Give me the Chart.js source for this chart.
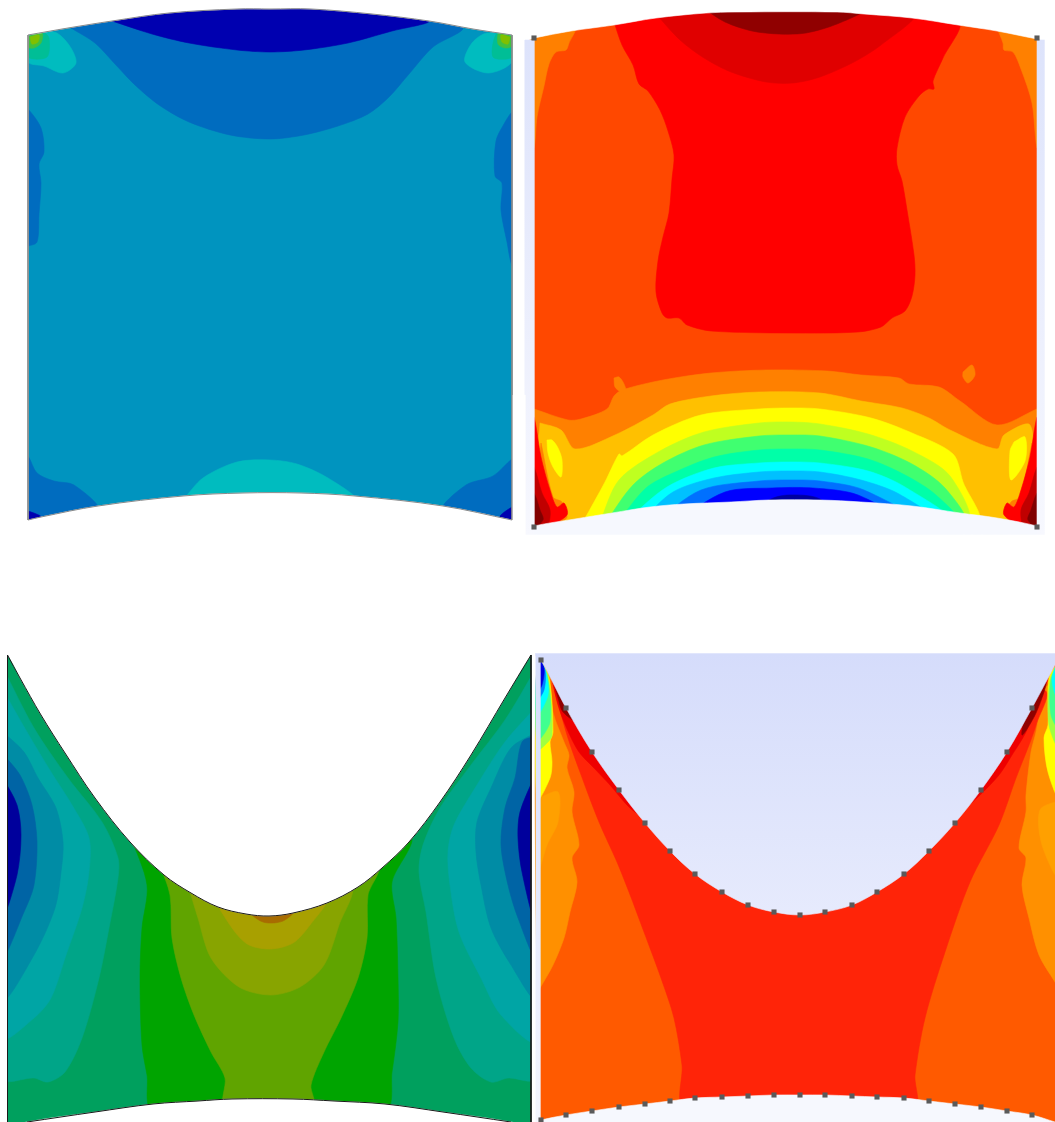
<!DOCTYPE html>
<html>
<head>
<meta charset="utf-8">
<title>Contour plots</title>
<script src="https://cdn.jsdelivr.net/npm/chart.js@4"></script>
<style>
html, body { margin: 0; padding: 0; background: #fff; }
canvas { display: block; filter: blur(0.4px); }
</style>
</head>
<body>
<canvas id="contours" width="1055" height="1122"></canvas>
<script>
// Every contour is a list of [x, y] values

// Top left panel
const p1TopArc = [[28,35],[68,28],[112,21],[169,13],[237,9],[270,9],[311,9],[372,14],[429,21],[473,29],[512,35]];
const p1BottomArc = [[512,520],[443,506],[355,496],[301,493],[243,493],[183,496],[98,506],[41,517],[28,520]];
const p1TopBlue = [[71,28],[95,43],[115,64],[135,85],[159,105],[189,122],[230,135],[270,139],[304,135],[338,126],[368,114],[389,97],[409,74],[433,47],[463,28],[429,15],[270,3],[112,15]];
const p1TopNavy = [[112,21],[152,34],[189,43],[237,50],[270,52],[304,50],[348,43],[392,31],[429,21],[372,8],[270,3],[169,8]];
const p1CornerCyanL = [[28,38],[54,32],[69,45],[76,63],[63,73],[44,66],[28,62]];
const p1CornerCyanR = [[512,37],[487,33],[472,43],[465,62],[488,73],[512,62]];
const p1CornerTealL = [[28,36],[44,33],[49,38],[47,57],[28,57]];
const p1CornerTealR = [[512,36],[497,33],[493,57],[512,57]];
const p1CornerGreenL = [[28,36],[42,33],[41,43],[34,48],[28,47]];
const p1CornerGreenR = [[512,36],[499,33],[498,44],[505,48],[512,46]];
const p1CornerLimeL = [[30,37],[39,35],[38,42],[32,44]];
const p1CornerLimeR = [[510,37],[501,35],[502,42],[508,44]];
const p1StripL = [[24,109],[28,109],[41,128],[44,152],[39,164],[41,183],[39,214],[37,242],[28,246],[24,246]];
const p1StripR = [[516,112],[512,112],[504,124],[496,141],[495,176],[502,183],[501,210],[507,242],[512,266],[516,266]];
const p1BottomCyan = [[183,500],[203,478],[237,462],[270,460],[297,464],[328,478],[355,500]];
const p1BottomBlueL = [[24,456],[28,456],[37,473],[54,481],[74,485],[98,510],[24,526]];
const p1BottomBlueR = [[516,459],[512,459],[493,476],[466,485],[443,510],[516,526]];
const p1BottomNavyL = [[24,511],[28,511],[41,517],[24,524]];
const p1BottomNavyR = [[516,507],[512,507],[500,517],[516,524]];
const p1Field = [[20,0],[520,0],[520,530],[20,530]];
const p1Left = [[0,0],[28,0],[28,640],[0,640]];
const p1Right = [[512.5,0],[524.5,0],[524.5,640],[512.5,640]];
const p1EdgeL = [[28,35],[28,520]];
const p1EdgeR = [[512,35],[512,520]];

// Top right panel
const p2Backdrop = [[525,40],[1045,40],[1045,535],[525,535]];
const p2TopArc = [[534,38],[571,31],[614,25],[656,18],[706,13],[735,12],[837,12],[864,14],[912,18],[958,25],[997,31],[1037,39]];
const p2BottomArc = [[1037,526],[997,518],[960,513],[912,506],[861,502],[820,500],[769,500],[731,502],[684,504],[650,507],[612,513],[575,519],[534,526]];
const p2Field = [[530,5],[1041,5],[1041,530],[530,530]];
const p2EdgeL = [[530,38],[575,28],[569,43],[566,50],[556,52],[549,64],[544,86],[537,117],[534,148],[530,148]];
const p2EdgeR = [[997,28],[1041,39],[1041,148],[1037,148],[1032,103],[1021,69],[1013,52],[1004,50],[1003,43]];
const p2Core = [[614,22],[622,45],[633,65],[639,84],[648,91],[660,110],[668,131],[674,155],[672,179],[669,213],[663,237],[658,261],[656,292],[662,313],[667,318],[679,318],[687,325],[711,331],[789,333],[858,332],[881,327],[892,318],[905,311],[912,296],[915,275],[914,255],[907,210],[902,181],[897,165],[897,148],[905,117],[919,96],[928,89],[934,89],[933,81],[943,58],[958,22],[790,5]];
const p2TopDark = [[656,14],[680,40],[704,58],[731,72],[766,82],[793,83],[820,77],[854,62],[881,45],[914,14],[790,3]];
const p2TopDarkest = [[703,8],[725,22],[752,31],[779,34],[806,33],[837,24],[867,8],[790,3]];
const p2Orange = [[530,408],[534,409],[568,420],[581,419],[607,409],[614,396],[622,390],[663,380],[711,373],[766,370],[827,371],[861,375],[899,378],[909,384],[939,387],[960,401],[997,425],[1037,409],[1041,408],[1041,532],[530,532]];
const p2BlobL = [[614,378],[619,377],[624,384],[626,392],[621,392],[615,387]];
const p2BlobR = [[963,372],[972,365],[975,375],[968,383],[963,377]];
const p2Amber = [[540,423],[561,430],[575,449],[615,435],[653,415],[670,404],[711,396],[759,392],[820,393],[861,401],[902,408],[929,418],[950,430],[997,449],[1004,435],[1030,425],[1033,481],[1033,532],[538,532]];
const p2WedgeOrangeL = [[541,443],[553,497],[562,502],[567,517],[558,523],[534,530]];
const p2WedgeOrangeR = [[1032,443],[1020,497],[1011,502],[1006,517],[1015,523],[1037,530]];
const p2WedgeRedL = [[530,417],[534,417],[541,457],[550,490],[557,507],[564,503],[567,515],[545,528],[530,530]];
const p2WedgeRedR = [[1041,417],[1037,417],[1030,457],[1021,490],[1014,507],[1007,503],[1004,515],[1026,528],[1041,530]];
const p2WedgeDarkL = [[530,467],[534,467],[542,493],[550,510],[547,526],[530,530]];
const p2WedgeDarkR = [[1041,467],[1037,467],[1029,493],[1021,510],[1024,526],[1041,530]];
const p2WedgeDeepL = [[530,493],[534,493],[540,510],[543,520],[530,530]];
const p2WedgeDeepR = [[1041,493],[1037,493],[1031,510],[1028,520],[1041,530]];
const p2YellowL = [[547,440],[552,440],[558,448],[562,460],[561,477],[553,467],[548,453]];
const p2YellowR = [[1014,442],[1025,437],[1025,461],[1011,480],[1010,451]];
const p2BandYellow = [[583,522],[605,482],[619,454],[622,456],[653,435],[701,415],[759,409],[790,408],[820,409],[871,418],[912,433],[953,454],[963,482],[977,522]];
const p2BandLime = [[600,522],[619,480],[660,451],[704,432],[759,423],[790,422],[820,424],[868,434],[912,451],[950,476],[966,522]];
const p2BandGreen = [[606,522],[633,485],[663,463],[704,445],[759,436],[790,435],[820,436],[871,447],[912,464],[945,488],[963,522]];
const p2BandSpring = [[618,522],[646,488],[673,473],[714,457],[759,450],[790,449],[820,450],[868,459],[905,475],[936,495],[957,522]];
const p2BandCyan = [[625,522],[667,487],[714,468],[759,463],[790,462],[820,463],[868,471],[905,487],[950,522]];
const p2BandSky = [[640,522],[673,492],[714,478],[759,472],[790,471],[820,472],[861,480],[899,494],[935,522]];
const p2BandAzure = [[655,522],[701,490],[759,481],[790,480],[820,481],[864,490],[915,522]];
const p2BandBlue = [[675,522],[725,492],[772,488],[813,488],[858,495],[900,522]];
const p2BandNavy = [[745,522],[769,500],[789,495],[820,499],[840,522]];
const p2Left = [[525,40],[534,40],[534,535],[525,535]];
const p2Right = [[1037,40],[1045,40],[1045,535],[1037,535]];
const p2OuterLeft = [[513,395],[525,395],[525,640],[513,640]];
const p2OuterRight = [[1045,0],[1055,0],[1055,640],[1045,640]];
const p2OuterBelow = [[513,535],[1055,535],[1055,640],[513,640]];
const p2Nodes = [[534,38],[1037,38],[534,527],[1037,527]];

// Bottom left panel
const p3TopCurve = [[7.5,655],[20,678],[41,715],[65,753],[95,798],[130,842],[164,875],[191,893],[218,907],[246,914],[269,916],[293,913],[327,903],[358,887],[382,868],[409,842],[440,802],[471,755],[505,698],[531,655]];
const p3BottomCurve = [[511,1122],[443,1112],[385,1104],[334,1101],[293,1099],[232,1099],[198,1101],[153,1104],[95,1112],[27,1122]];
const p3Field = [[3,645],[535,645],[535,1130],[3,1130]];
const p3TealL = [[3,668],[34,728],[68,778],[102,822],[118,858],[118,878],[109,928],[99,978],[82,1038],[65,1072],[48,1082],[34,1078],[3,1078]];
const p3TealR = [[535,670],[505,720],[471,765],[440,808],[423,845],[419,872],[426,912],[436,978],[454,1038],[471,1068],[491,1082],[508,1078],[535,1078]];
const p3AquaL = [[3,690],[27,732],[51,772],[72,805],[89,838],[89,872],[82,908],[66,955],[51,998],[34,1018],[3,1037]];
const p3AquaR = [[535,708],[505,742],[477,785],[454,825],[448,852],[450,885],[459,932],[481,978],[501,1015],[535,1040]];
const p3SteelL = [[3,732],[24,752],[38,778],[56,808],[63,842],[61,872],[55,908],[34,955],[3,998]];
const p3SteelR = [[535,733],[511,748],[491,788],[477,822],[476,852],[481,885],[491,928],[511,965],[535,997]];
const p3BlueL = [[3,754],[20,775],[32,805],[37,842],[34,885],[24,912],[3,955]];
const p3BlueR = [[535,736],[522,742],[515,778],[505,808],[501,845],[508,885],[518,918],[535,955]];
const p3NavyL = [[3,778],[17,805],[21,835],[17,875],[3,915]];
const p3NavyR = [[535,775],[520,812],[518,838],[522,872],[535,920]];
const p3Green = [[130,835],[147,885],[142,928],[140,978],[142,1045],[147,1075],[153,1110],[385,1110],[392,1072],[398,1022],[398,978],[396,918],[392,882],[410,835],[270,800]];
const p3Olive1 = [[160,865],[170,895],[172,938],[181,978],[194,1015],[211,1052],[225,1078],[225,1105],[313,1105],[311,1085],[324,1052],[341,1018],[358,978],[367,938],[368,895],[378,865],[270,850]];
const p3Olive2 = [[188,885],[198,918],[211,958],[239,987],[271,995],[300,987],[324,965],[339,925],[351,885],[270,870]];
const p3Olive3 = [[214,900],[235,932],[249,945],[271,949],[293,943],[310,925],[327,897],[270,890]];
const p3Brown = [[243,908],[263,922],[283,921],[296,908],[270,900]];
const p3Left = [[0,640],[7.5,640],[7.5,1122],[0,1122]];
const p3Right = [[531.5,640],[536,640],[536,1122],[531.5,1122]];
const p3EdgeL = [[7.5,655],[7.5,1122]];
const p3EdgeR = [[531,655],[531,1122]];

// Bottom right panel
const p4Backdrop = [[536,653],[1055,653],[1055,1122],[536,1122]];
const p4TopCurve = [[541,660],[566,708],[592,752],[619,790],[645,823],[670,851],[695,874],[722,892],[748,905],[774,912],[800,915],[825,912],[852,905],[877,892],[904,874],[929,851],[955,823],[981,790],[1007,752],[1032,708],[1055,665]];
const p4BottomCurve = [[1055,1122],[1032,1115],[1007,1111],[981,1107],[955,1104],[929,1101],[904,1098],[877,1097],[852,1096],[825,1095],[800,1095],[774,1095],[748,1096],[722,1097],[695,1098],[670,1101],[645,1104],[619,1107],[592,1111],[566,1115],[541,1120]];
const p4Field = [[537,650],[1060,650],[1060,1125],[537,1125]];
const p4Core = [[552,680],[567,735],[580,772],[599,822],[617,862],[629,892],[644,932],[661,978],[674,1018],[682,1065],[685,1108],[914,1108],[915,1075],[925,1018],[945,952],[970,882],[999,825],[1016,778],[1029,745],[1036,725],[1044,690],[800,660]];
const p4RimL = [[550,670],[570,700],[596,745],[623,785],[648,820],[630,808],[610,785],[594,768],[579,752],[567,729],[558,705]];
const p4RimR = [[952,820],[977,785],[1003,745],[1028,700],[1048,678],[1036,705],[1026,732],[1012,755],[999,775],[979,796]];
const p4RimDarkL = [[553,680],[570,700],[579,723],[563,712],[558,698]];
const p4RimDarkR = [[1028,700],[1046,682],[1036,713],[1022,735]];
const p4OrangeL = [[550,677],[553,712],[564,742],[569,755],[567,768],[574,792],[572,812],[579,845],[572,858],[577,882],[570,912],[564,938],[553,965],[540,988],[537,992],[537,660]];
const p4OrangeR = [[1044,688],[1036,732],[1031,752],[1026,795],[1026,812],[1019,848],[1026,858],[1022,885],[1029,918],[1039,955],[1055,982],[1060,990],[1060,680]];
const p4AmberL = [[537,799],[558,792],[558,822],[547,845],[537,875]];
const p4AmberR = [[1060,800],[1040,810],[1042,845],[1060,880]];
const p4YellowL = [[537,655],[549,678],[553,732],[550,742],[552,762],[550,778],[537,800]];
const p4YellowR = [[1060,660],[1049,678],[1048,725],[1044,738],[1048,772],[1060,800]];
const p4LimeL = [[537,655],[548,676],[552,735],[545,745],[537,750]];
const p4LimeR = [[1060,660],[1050,680],[1049,725],[1060,750]];
const p4GreenL = [[537,655],[547,675],[550,722],[537,740]];
const p4GreenR = [[1060,660],[1051,680],[1051,715],[1060,730]];
const p4CyanL = [[537,655],[546,673],[548,695],[537,715]];
const p4CyanR = [[1060,655],[1052,680],[1060,705]];
const p4AzureL = [[537,655],[545,670],[544,690],[537,700]];
const p4BlueL = [[537,655],[544,668],[542,685],[537,692]];
const p4Left = [[536,653],[540,653],[540,1122],[536,1122]];
const p4Above = [[536,630],[1060,630],[1060,653],[536,653]];
const p4NodesTop = [[541,660],[566,708],[592,752],[619,790],[645,823],[670,851],[695,874],[722,892],[748,905],[774,912],[800,915],[825,912],[852,905],[877,892],[904,874],[929,851],[955,823],[981,790],[1007,752],[1032,708]];
const p4NodesBottom = [[541,1120],[566,1115],[592,1111],[619,1107],[645,1104],[670,1101],[695,1098],[722,1097],[748,1096],[774,1095],[800,1095],[825,1095],[852,1096],[877,1097],[904,1098],[929,1101],[955,1104],[981,1107],[1007,1111],[1032,1115]];

// Soft backdrops behind the right hand panels
const gradCtx = document.createElement('canvas').getContext('2d');
function backdrop(y0, y1, top, bottom) {
    const g = gradCtx.createLinearGradient(0, y0, 0, y1);
    g.addColorStop(0, top);
    g.addColorStop(1, bottom);
    return g;
}
const p2Fill = backdrop(40, 535, '#dde3fb', '#f7f8fe');
const p4Fill = backdrop(653, 1122, '#d5dcfb', '#f4f6fe');

function toPoints(list) {
    return list.map(p => ({ x: p[0], y: p[1] }));
}

// A filled closed contour, softly rounded like the solver's iso lines
function shape(list, color, tension = 0.3) {
    const data = toPoints(list);
    data.push(data[0]);
    return {
        data: data,
        showLine: true,
        fill: 'shape',
        backgroundColor: color,
        borderColor: color,
        borderWidth: 0.6,
        pointRadius: 0,
        tension: tension
    };
}

// Straight masks that trim the contours back to a panel edge
function mask(list, color) {
    return shape(list, color, 0);
}

// Mask bounded on one side by a curved panel edge
function curveMask(curve, before, after, color) {
    return shape(before.concat(curve, after), color, 0.35);
}

// A thin open line along a panel edge
function edge(list, color, tension = 0.35) {
    return {
        data: toPoints(list),
        showLine: true,
        fill: false,
        borderColor: color,
        borderWidth: 1,
        pointRadius: 0,
        tension: tension
    };
}

// Square mesh nodes
function nodes(list) {
    return {
        data: toPoints(list),
        showLine: false,
        pointStyle: 'rect',
        pointRadius: 3.6,
        pointBackgroundColor: '#5a5a5a',
        pointBorderWidth: 0
    };
}

const layers = [
    mask(p1Field, '#0094bf'),
    shape(p1TopBlue, '#006cbf'),
    shape(p1TopNavy, '#0000b0'),
    shape(p1CornerCyanL, '#00bcbf'),
    shape(p1CornerCyanR, '#00bcbf'),
    shape(p1CornerTealL, '#00be96'),
    shape(p1CornerTealR, '#00be96'),
    shape(p1CornerGreenL, '#40c040'),
    shape(p1CornerGreenR, '#40c040'),
    shape(p1CornerLimeL, '#80c000'),
    shape(p1CornerLimeR, '#80c000'),
    shape(p1StripL, '#006cbf'),
    shape(p1StripR, '#006cbf'),
    shape(p1BottomCyan, '#00bcbf'),
    shape(p1BottomBlueL, '#006cbf'),
    shape(p1BottomBlueR, '#006cbf'),
    shape(p1BottomNavyL, '#0000b0'),
    shape(p1BottomNavyR, '#0000b0'),
    curveMask(p1TopArc, [[0,0],[0,38]], [[524,38],[524,0]], '#ffffff'),
    curveMask(p1BottomArc, [[524,640],[524,523]], [[0,523],[0,640]], '#ffffff'),
    mask(p1Left, '#ffffff'),
    mask(p1Right, '#ffffff'),
    edge(p1TopArc, '#8a8a8a'),
    edge(p1BottomArc, '#8a8a8a'),
    edge(p1EdgeL, '#8a8a8a', 0),
    edge(p1EdgeR, '#8a8a8a', 0),

    mask(p2Backdrop, p2Fill),
    mask(p2Field, '#ff4800'),
    shape(p2EdgeL, '#ff8000'),
    shape(p2EdgeR, '#ff8000'),
    shape(p2Core, '#ff0000'),
    shape(p2TopDark, '#e00000'),
    shape(p2TopDarkest, '#900000'),
    shape(p2Orange, '#ff8000'),
    shape(p2BlobL, '#ff8000'),
    shape(p2BlobR, '#ff8000'),
    shape(p2Amber, '#ffc000'),
    shape(p2WedgeOrangeL, '#ff8000'),
    shape(p2WedgeOrangeR, '#ff8000'),
    shape(p2WedgeRedL, '#ff0000'),
    shape(p2WedgeRedR, '#ff0000'),
    shape(p2WedgeDarkL, '#c00000'),
    shape(p2WedgeDarkR, '#c00000'),
    shape(p2WedgeDeepL, '#800000'),
    shape(p2WedgeDeepR, '#800000'),
    shape(p2YellowL, '#ffff00'),
    shape(p2YellowR, '#ffff00'),
    shape(p2BandYellow, '#ffff00'),
    shape(p2BandLime, '#bfff20'),
    shape(p2BandGreen, '#40ff70'),
    shape(p2BandSpring, '#00ffa8'),
    shape(p2BandCyan, '#00ffff'),
    shape(p2BandSky, '#00c0ff'),
    shape(p2BandAzure, '#0070ff'),
    shape(p2BandBlue, '#0000ff'),
    shape(p2BandNavy, '#0000a0'),
    curveMask(p2TopArc, [[525,0],[525,40]], [[1045,40],[1055,0]], '#ffffff'),
    curveMask(p2BottomArc, [[1045,535],[1045,530]], [[525,530],[525,535]], '#f6f8fe'),
    mask(p2Left, p2Fill),
    mask(p2Right, p2Fill),
    mask(p2OuterLeft, '#ffffff'),
    mask(p2OuterRight, '#ffffff'),
    mask(p2OuterBelow, '#ffffff'),
    nodes(p2Nodes),

    mask(p3Field, '#00a05e'),
    shape(p3TealL, '#00a588'),
    shape(p3TealR, '#00a588'),
    shape(p3AquaL, '#00a5a5'),
    shape(p3AquaR, '#00a5a5'),
    shape(p3SteelL, '#008ca5'),
    shape(p3SteelR, '#008ca5'),
    shape(p3BlueL, '#0064a5'),
    shape(p3BlueR, '#0064a5'),
    shape(p3NavyL, '#00009c'),
    shape(p3NavyR, '#00009c'),
    shape(p3Green, '#00a400'),
    shape(p3Olive1, '#60a400'),
    shape(p3Olive2, '#88a400'),
    shape(p3Olive3, '#a8a000'),
    shape(p3Brown, '#a86c00'),
    curveMask(p3TopCurve, [[0,640],[0,652]], [[536,652],[536,640]], '#ffffff'),
    curveMask(p3BottomCurve, [[545,1145],[530,1128]], [[10,1128],[0,1145]], '#ffffff'),
    mask(p3Left, '#ffffff'),
    mask(p3Right, '#ffffff'),
    edge(p3TopCurve, '#1a1a1a'),
    edge(p3BottomCurve, '#1a1a1a'),
    edge(p3EdgeL, '#1a1a1a', 0),
    edge(p3EdgeR, '#1a1a1a', 0),

    mask(p4Backdrop, p4Fill),
    mask(p4Field, '#ff5a00'),
    shape(p4OrangeL, '#ff9000'),
    shape(p4OrangeR, '#ff9000'),
    shape(p4Core, '#ff2408'),
    shape(p4RimL, '#ee0000'),
    shape(p4RimR, '#ee0000'),
    shape(p4RimDarkL, '#900000'),
    shape(p4RimDarkR, '#900000'),
    shape(p4AmberL, '#ffa000'),
    shape(p4AmberR, '#ffa000'),
    shape(p4YellowL, '#ffff00'),
    shape(p4YellowR, '#ffff00'),
    shape(p4LimeL, '#a0ff40'),
    shape(p4LimeR, '#a0ff40'),
    shape(p4GreenL, '#40ff90'),
    shape(p4GreenR, '#40ff90'),
    shape(p4CyanL, '#00ffff'),
    shape(p4CyanR, '#00ffff'),
    shape(p4AzureL, '#0080ff'),
    shape(p4BlueL, '#0000e0'),
    curveMask(p4TopCurve, [[536,653],[536,656]], [[1060,656],[1060,653]], p4Fill),
    curveMask(p4BottomCurve, [[1075,1135],[1075,1128]], [[536,1122],[536,1135]], '#f6f8fe'),
    mask(p4Left, p4Fill),
    mask(p4Above, '#ffffff'),
    nodes(p4NodesTop),
    nodes(p4NodesBottom)
];

// Chart.js paints the first dataset last, so flip the list to stack them in order
new Chart(document.getElementById('contours').getContext('2d'), {
    type: 'scatter',
    data: { datasets: layers.slice().reverse() },
    options: {
        responsive: false,
        animation: false,
        layout: { padding: 0, autoPadding: false },
        plugins: {
            legend: { display: false },
            tooltip: { enabled: false }
        },
        scales: {
            x: { type: 'linear', min: 0, max: 1055, display: false },
            y: { type: 'linear', min: 0, max: 1122, reverse: true, display: false }
        }
    }
});
</script>
</body>
</html>
